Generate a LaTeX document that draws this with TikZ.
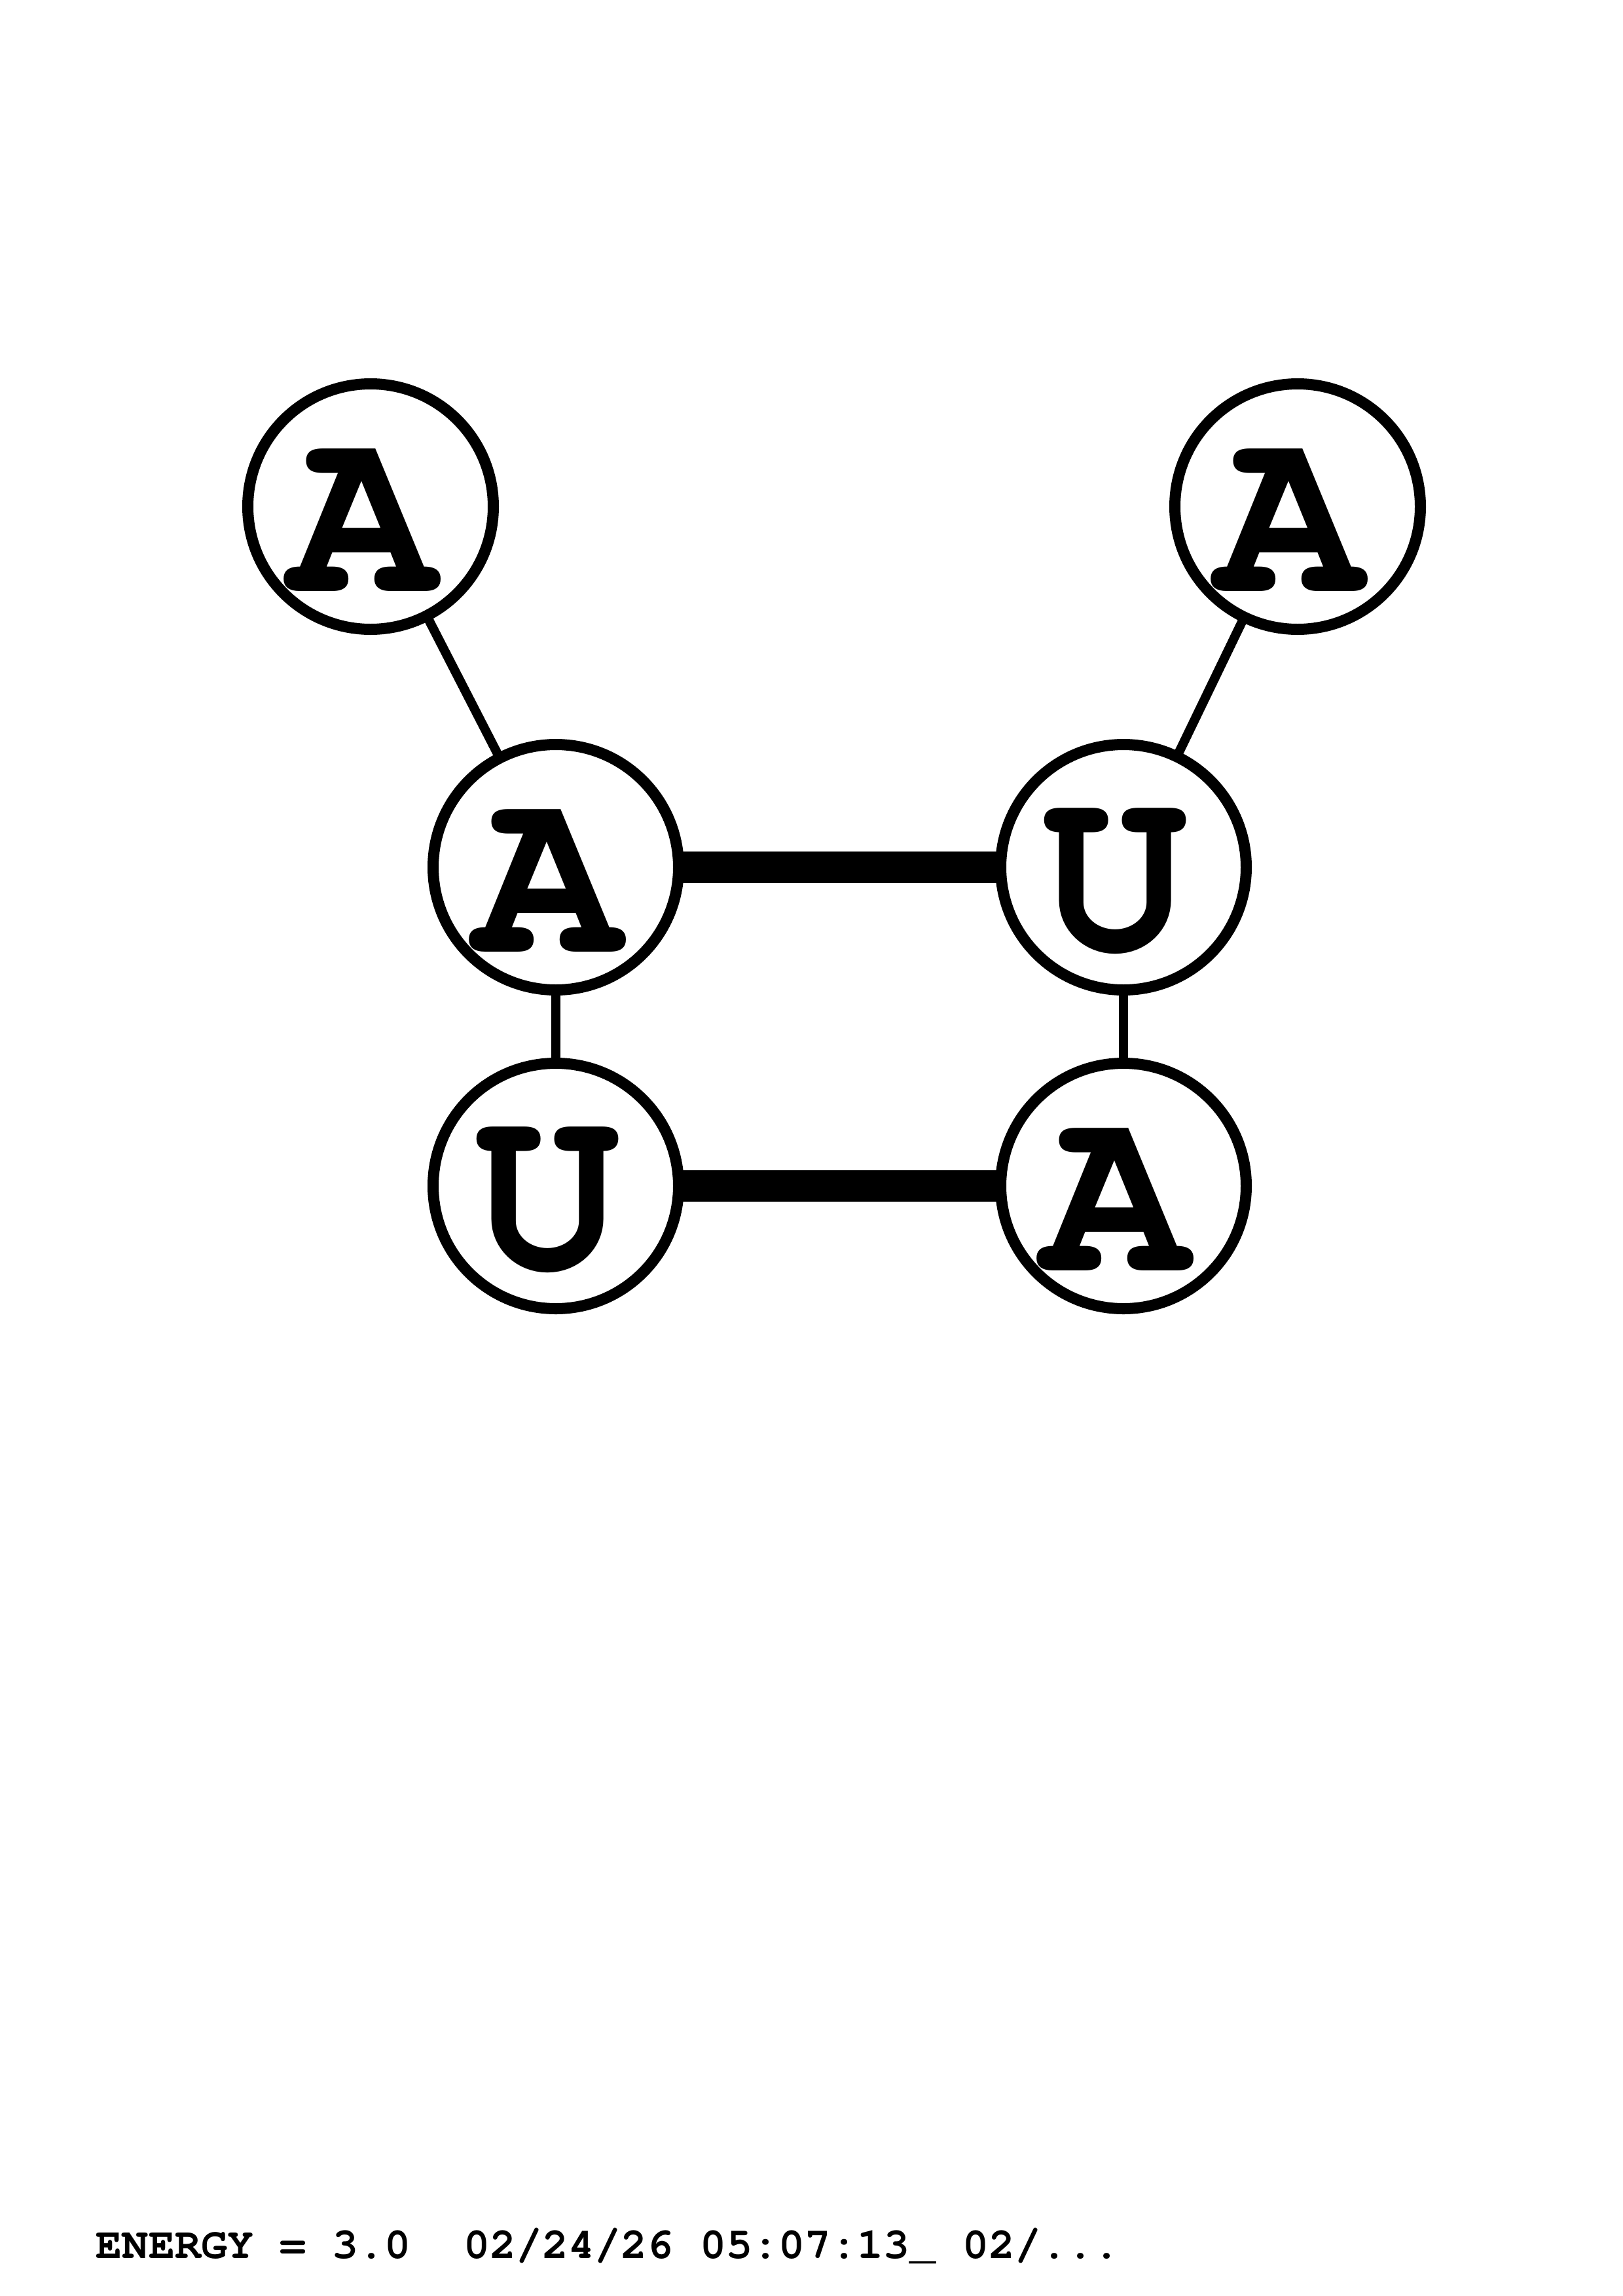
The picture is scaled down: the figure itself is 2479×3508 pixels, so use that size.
\documentclass[tikz,border=0pt]{standalone}
\usepackage{fontspec}
\newfontfamily\curb{texgyrecursor-bold.otf}
\begin{document}
\begin{tikzpicture}[x=0.08467mm,y=-0.08467mm,
  base/.style={circle,draw=black,line width=1.44mm,fill=white,minimum size=31.75mm,inner sep=0pt},
  letter/.style={inner sep=0pt,font=\curb\fontsize{90}{90}\selectfont},
  thin/.style={line width=1.19mm},
  pair/.style={line width=4.1mm}]
\useasboundingbox (0,0) rectangle (2479,3508);
% centres
\path (566,774) coordinate (c1) (1982,774) coordinate (c2)
      (849,1325) coordinate (c3) (1716,1325) coordinate (c4)
      (849,1812) coordinate (c5) (1716,1812) coordinate (c6);
% connectors (drawn first, circles on top)
\draw[thin] (c1) -- (c3);
\draw[thin] (c2) -- (c4);
\draw[thin] (c3) -- (c5);
\draw[thin] (c4) -- (c6);
\draw[pair] (c3) -- (c4);
\draw[pair] (c5) -- (c6);
\node[base] (n1) at (c1) {};
\node[base] (n2) at (c2) {};
\node[base] (n3) at (c3) {};
\node[base] (n4) at (c4) {};
\node[base] (n5) at (c5) {};
\node[base] (n6) at (c6) {};
\node[letter] (l1) at ([shift={(-12,21)}]n1.center) {A};
\node[letter] (l2) at ([shift={(-12,21)}]n2.center) {A};
\node[letter] (l3) at ([shift={(-12,21)}]n3.center) {A};
\node[letter] (l4) at ([shift={(-12,21)}]n4.center) {U};
\node[letter] (l5) at ([shift={(-12,21)}]n5.center) {U};
\node[letter] (l6) at ([shift={(-12,21)}]n6.center) {A};
\node[anchor=base west,inner sep=0pt,font=\curb\fontsize{16.1}{16.1}\selectfont] (energy) at (146,3450) {ENERGY = 3.0\ \ 02/24/26 05:07:13\_ 02/...};
\end{tikzpicture}
\end{document}
